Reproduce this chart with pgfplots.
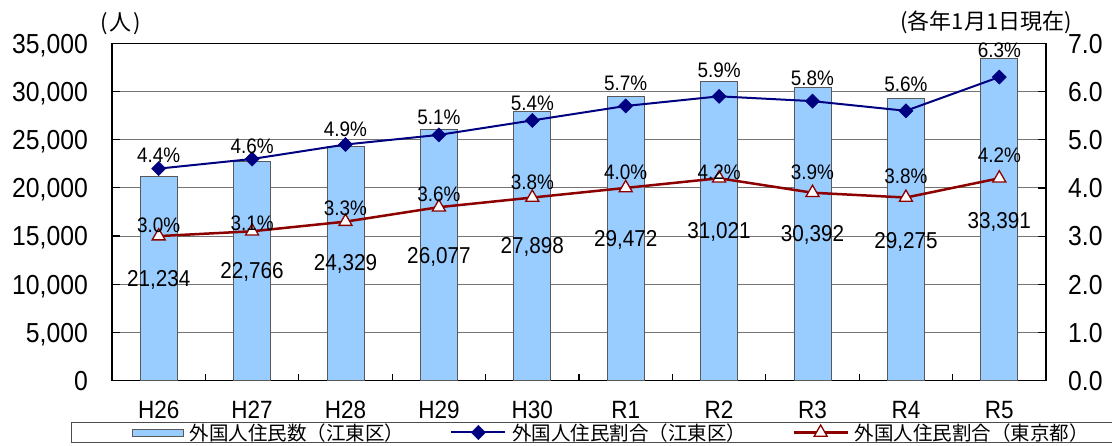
\documentclass[border=0pt]{standalone}
\usepackage{pgfplots}
\pgfplotsset{compat=1.18}
\usepackage{pgfplotstable}
\usepackage{fontspec}
\setmainfont{Liberation Sans}[FakeStretch=0.9]
\newfontfamily\jp{Noto Sans CJK JP}
\definecolor{barblue}{RGB}{153,204,255}
\definecolor{kotoblue}{RGB}{0,0,128}
\definecolor{tokyored}{RGB}{140,0,0}
\newcommand{\fs}[1]{\fontsize{#1}{#1}\selectfont}

\pgfplotsset{
  barlegend/.style={legend image code/.code={\path (-19bp,0bp); \draw[##1] (0bp,-3.5bp) rectangle (51bp,3.5bp);}},
  linelegend/.style={legend image code/.code={\draw[mark repeat=2, mark phase=2, ##1] plot coordinates {(0bp,0bp) (27bp,0bp) (54bp,0bp)};}},
}

\pgfplotstableread{
x bar koto tokyo bary kotoy tokyoy barlab
0 21234 4.4 3.0 10440 4.68 3.23 21,234
1 22766 4.6 3.1 11270 4.87 3.27 22,766
2 24329 4.9 3.3 12100 5.22 3.58 24,329
3 26077 5.1 3.6 12830 5.47 3.87 26,077
4 27898 5.4 3.8 13870 5.76 4.12 27,898
5 29472 5.7 4.0 14590 6.18 4.33 29,472
6 31021 5.9 4.2 15420 6.45 4.33 31,021
7 30392 5.8 3.9 15110 6.28 4.33 30,392
8 29275 5.6 3.8 14380 6.16 4.25 29,275
9 33391 6.3 4.2 16460 6.86 4.68 33,391
}\data

\begin{document}
\begin{tikzpicture}
\useasboundingbox (0,0) rectangle (1112bp,446bp);
\begin{axis}[
  at={(112bp,65.3bp)}, anchor=south west,
  scale only axis, width=934bp, height=337.4bp,
  xmin=-0.5, xmax=9.5, ymin=0, ymax=35000,
  xtick={0,...,9}, xticklabels={H26,H27,H28,H29,H30,R1,R2,R3,R4,R5},
  xtick pos=bottom, ytick pos=left,
  major x tick style={draw=none},
  minor x tick num=1,
  minor tick length=7bp, major tick length=8bp,
  tick align=inside,
  ytick={0,5000,...,35000},
  scaled y ticks=false,
  ymajorgrids, grid style={black!55, line width=1.1bp},
  axis line style={line width=1.2bp},
  tick style={black, line width=1.2bp},
  xticklabel style={font=\fs{25bp}, anchor=base, inner sep=0pt, yshift=-38.3bp},
  yticklabel style={font=\fs{27.5bp}, anchor=base east, inner sep=0pt, xshift=-24bp, yshift=-9.8bp},
  /pgf/number format/1000 sep={,},
  /pgf/number format/assume math mode=true,
]
\addplot[ybar, bar width=37bp, fill=barblue, draw=black!65, line width=0.8bp] table[x=x, y=bar] {\data};
\addplot[draw=none, mark=none, forget plot, nodes near coords, point meta=explicit symbolic,
  every node near coord/.append style={anchor=center, font=\fs{23bp}, inner sep=0pt}]
  table[x=x, y=bary, meta=barlab] {\data};
\end{axis}

\begin{axis}[
  at={(112bp,65.3bp)}, anchor=south west,
  scale only axis, width=934bp, height=337.4bp,
  xmin=-0.5, xmax=9.5, ymin=0, ymax=7,
  axis y line*=right, axis x line=none,
  ytick={0,1,...,7},
  tick align=inside, major tick length=8bp,
  axis line style={-, line width=1.2bp},
  tick style={black, line width=1.2bp},
  clip=false,
  yticklabel={\pgfmathprintnumber[fixed, fixed zerofill, precision=1]{\tick}},
  yticklabel style={font=\fs{27.5bp}, anchor=base west, inner sep=0pt, xshift=22bp, yshift=-9.8bp},
  /pgf/number format/assume math mode=true,
  legend columns=3,
  legend style={at={(-0.0442,-0.1224)}, anchor=north west,
    draw=black!70, line width=0.8bp, inner xsep=42bp, inner ysep=1bp,
    font=\jp\fs{19.5bp},
    nodes={inner sep=0pt},
    /tikz/every odd column/.append style={column sep=6bp},
    /tikz/every even column/.append style={column sep=46bp}},
]
\addlegendimage{barlegend, fill=barblue, draw=black!65, line width=0.8bp}
\addlegendentry{外国人住民数（江東区）}
\addplot[linelegend, color=kotoblue, line width=2bp, mark=square*, mark size=5bp,
  mark options={rotate=45, fill=kotoblue, draw=kotoblue, line width=0.5bp}]
  table[x=x, y=koto] {\data};
\addlegendentry{外国人住民割合（江東区）}
\addplot[linelegend, color=tokyored, line width=2.5bp, mark=triangle*, mark size=7.5bp,
  mark options={fill=white, draw=tokyored, line width=1.3bp}]
  table[x=x, y=tokyo] {\data};
\addlegendentry{外国人住民割合（東京都）}
\addplot[draw=none, mark=none, forget plot, nodes near coords, point meta=explicit symbolic,
  nodes near coords={\pgfplotspointmeta\%},
  every node near coord/.append style={anchor=center, font=\fs{21bp}, inner sep=0pt}]
  table[x=x, y=kotoy, meta=koto] {\data};
\addplot[draw=none, mark=none, forget plot, nodes near coords, point meta=explicit symbolic,
  nodes near coords={\pgfplotspointmeta\%},
  every node near coord/.append style={anchor=center, font=\fs{21bp}, inner sep=0pt}]
  table[x=x, y=tokyoy, meta=tokyo] {\data};
\end{axis}

\node[font=\jp\fs{22bp}] at (120.5bp,422bp) {(\kern2bp 人\kern2bp)};
\node[font=\jp\fs{22bp}] at (986bp,423.5bp) {(各年1月1日現在)};
\end{tikzpicture}
\end{document}
